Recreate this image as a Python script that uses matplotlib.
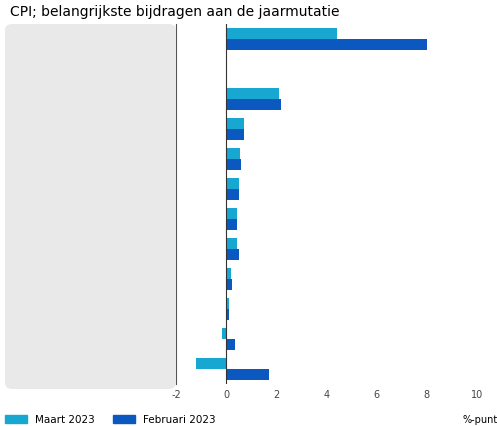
import matplotlib
matplotlib.use("Agg")
import matplotlib.pyplot as plt
from matplotlib.patches import FancyBboxPatch, Rectangle
import numpy as np

categories = ["Totaal", "", "Voedingsmiddelen en\nalcoholvrije dranken", "Diverse goederen en\ndiensten",
              "Stoffering en huishoudelijke\napparaten", "Kleding en schoenen", "Horeca",
              "Recreatie en cultuur", "Onderwijs", "Consumptie in het buitenland", "Vervoer",
              "Huisvesting, water\nen energie"]
maart = [4.4, np.nan, 2.1, 0.7, 0.55, 0.5, 0.45, 0.45, 0.2, 0.1, -0.15, -1.2]
februari = [8.0, np.nan, 2.2, 0.7, 0.6, 0.5, 0.45, 0.5, 0.25, 0.1, 0.35, 1.7]
xticks = [-2, 0, 2, 4, 6, 8, 10]

c1, c2 = "#17a7d0", "#0a58c0"
fig = plt.figure(figsize=(4.98, 4.27), dpi=100)
ax = fig.add_axes([176/498, 1-385/427, 301/498, (385-25)/427])
bg = FancyBboxPatch((5/498, 1-390/427), 171/498, 365/427, boxstyle="round,pad=0,rounding_size=0.015",
                    transform=fig.transFigure, facecolor="#e9e9e9", edgecolor="none", zorder=0)
fig.patches.append(bg)

y = np.arange(len(categories))
h = 0.36
ax.barh(y - h/2, maart, height=h, color=c1)
ax.barh(y + h/2, februari, height=h, color=c2)
ax.set_ylim(len(categories) - 0.5, -0.5)
ax.set_xlim(-2, 10)
ax.set_yticks([])
trans = ax.get_yaxis_transform()
for yi, cat in zip(y, categories):
    ax.text(-0.29, yi, cat, transform=trans, ha="center", va="center", fontsize=7, linespacing=1.5)
ax.set_xticks(xticks)
ax.set_xticklabels([str(t) for t in xticks], fontsize=7, color="#444")
ax.tick_params(axis="x", length=0)
for s in ["top", "right", "bottom"]:
    ax.spines[s].set_visible(False)
ax.spines["left"].set_color("#555")
ax.axvline(0, color="#333", lw=0.8)
ax.set_facecolor("none")
fig.text(10/498, 1-12/427, "CPI; belangrijkste bijdragen aan de jaarmutatie", fontsize=10, va="center")
fig.text(462/498, 1-420/427, "%-punt", fontsize=7, va="center")
fig.patches.append(Rectangle((5/498, 1-424/427), 22/498, 8/427, transform=fig.transFigure, color=c1))
fig.text(35/498, 1-420/427, "Maart 2023", fontsize=7.5, va="center")
fig.patches.append(Rectangle((113/498, 1-424/427), 22/498, 8/427, transform=fig.transFigure, color=c2))
fig.text(143/498, 1-420/427, "Februari 2023", fontsize=7.5, va="center")
fig.savefig("out.png", dpi=100)
